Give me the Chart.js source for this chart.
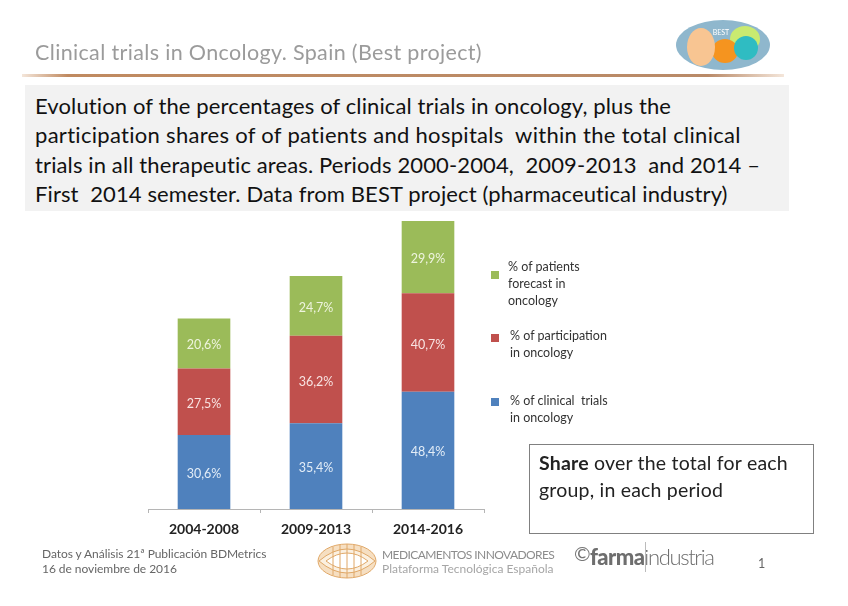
<!DOCTYPE html>
<html>
<head>
<meta charset="utf-8">
<title>Clinical trials in Oncology</title>
<script src="https://cdn.jsdelivr.net/npm/chart.js@4"></script>
<style>
body { margin:0; background:#fff; font-family:Lato, sans-serif; }
#page { position:relative; width:848px; height:606px; overflow:hidden; }
#myChart { position:absolute; left:0; top:0; }
.t { position:absolute; white-space:pre; }
.sq { position:absolute; width:8px; height:8px; }
#title { left:35px; top:39px; font-size:21.5px; line-height:26px; color:#9b9b9b; letter-spacing:.35px; }
#rule { position:absolute; left:22px; top:74px; width:762px; height:3px; background:linear-gradient(90deg,#f4e6da,#c08a60 6%,#b98a68 90%,#f4e6da); }
#box { position:absolute; left:25px; top:85px; width:764px; height:126px; background:#f2f2f2; }
#boxText { left:35px; top:91px; font-size:22px; line-height:29.4px; color:#111; letter-spacing:.12px; }
.leg { font-size:12.5px; line-height:17px; color:#333; }
#share { position:absolute; left:529px; top:444px; width:283px; height:88px; border:1px solid #808080; }
#shareText { left:539px; top:449px; font-size:19.5px; line-height:27px; color:#222; letter-spacing:.2px; }
.foot { font-size:12px; line-height:15px; color:#666; letter-spacing:-.05px; }
</style>
</head>
<body>
<div id="page">
  <canvas id="myChart" width="848" height="606"></canvas>

  <div class="t" id="title">Clinical trials in Oncology. Spain (Best project)</div>
  <svg style="position:absolute;left:670px;top:15px" width="110" height="60">
    <ellipse cx="53" cy="30" rx="47" ry="25" fill="#8fb7cd"/>
    <ellipse cx="75" cy="24" rx="15" ry="13" fill="#c9ea70"/>
    <ellipse cx="55" cy="36" rx="13" ry="12" fill="#f5941f"/>
    <ellipse cx="31" cy="32" rx="14" ry="19" fill="#f8c592"/>
    <ellipse cx="76" cy="33" rx="12" ry="12" fill="#2fbcc2"/>
    <text x="51" y="20" font-size="7" fill="#fff" text-anchor="middle" font-family="Lato">BEST</text>
  </svg>
  <div id="rule"></div>
  <div id="box"></div>
  <div class="t" id="boxText">Evolution of the percentages of clinical trials in oncology, plus the
<span style="letter-spacing:.3px">participation shares of of patients and hospitals  within the total clinical</span>
trials in all therapeutic areas. Periods 2000-2004,  2009-2013  and 2014 –
First  2014 semester. Data from BEST project (pharmaceutical industry)</div>

  <div class="sq" style="left:491px;top:271px;background:#9bbb59"></div>
  <div class="t leg" style="left:508px;top:258px">% of patients
forecast in
oncology</div>
  <div class="sq" style="left:491px;top:334px;background:#c0504d"></div>
  <div class="t leg" style="left:510px;top:327px">% of participation
in oncology</div>
  <div class="sq" style="left:491px;top:398px;background:#4f81bd"></div>
  <div class="t leg" style="left:510px;top:392px">% of clinical  trials
in oncology</div>

  <div id="share"></div>
  <div class="t" id="shareText"><b>Share</b> over the total for each
group, in each period</div>

  <div class="t foot" style="left:42px;top:546px">Datos y Análisis 21ª Publicación BDMetrics</div>
  <div class="t foot" style="left:42px;top:561px">16 de noviembre de 2016</div>
  <svg style="position:absolute;left:316px;top:543px" width="62" height="36" fill="none" stroke="#e0a868" stroke-width="1">
    <ellipse cx="31" cy="18" rx="29" ry="17" fill="#f6dfc2"/>
    <path d="M3 18Q31 -6 59 18Q31 42 3 18Z" fill="#fbf0e0"/>
    <path d="M10 18Q31 2 52 18Q31 34 10 18Z" fill="#fff"/>
    <path d="M31 1V35M17 4V32M45 4V32M24 2V34M38 2V34"/>
  </svg>
  <div class="t" style="left:382px;top:547px;font-size:12px;line-height:15px;color:#8c8c8c;letter-spacing:-.58px">MEDICAMENTOS INNOVADORES</div>
  <div class="t" style="left:382px;top:561px;font-size:12px;line-height:15px;color:#a6a6a6">Plataforma Tecnológica Española</div>
  <div class="t" style="left:574px;top:541px;font-size:20px;line-height:24px;color:#777">©</div>
  <div class="t" style="left:590px;top:543px;font-size:22px;line-height:28px;color:#6e6e6e"><b style="font-weight:900;letter-spacing:-.6px">farma</b><span style="font-weight:300;letter-spacing:-1.35px">industria</span></div>
  <div style="position:absolute;left:645px;top:542px;width:1px;height:30px;background:#bbb"></div>
  <div class="t" style="left:758px;top:556px;font-size:12.5px;line-height:15px;color:#666">1</div>
</div>

<script>
const periods = ['2004-2008', '2009-2013', '2014-2016'];
const trials = [30.6, 35.4, 48.4];
const participation = [27.5, 36.2, 40.7];
const patients = [20.6, 24.7, 29.9];

// bar labels use a decimal comma like the original slide
const barLabels = {
  id: 'barLabels',
  afterDatasetsDraw(chart) {
    const ctx = chart.ctx;
    ctx.save();
    ctx.font = '12.5px Lato';
    ctx.textAlign = 'center';
    ctx.textBaseline = 'middle';
    chart.data.datasets.forEach((ds, i) => {
      ctx.fillStyle = ds.labelColor;
      chart.getDatasetMeta(i).data.forEach((bar, j) => {
        const c = bar.getCenterPoint();
        ctx.fillText(ds.data[j].toFixed(1).replace('.', ',') + '%', c.x, c.y + 2);
      });
    });
    ctx.restore();
  }
};

new Chart(document.getElementById('myChart'), {
  type: 'bar',
  data: {
    labels: periods,
    datasets: [
      { data: trials, backgroundColor: '#4f81bd', labelColor: '#e3edf7' },
      { data: participation, backgroundColor: '#c0504d', labelColor: '#f8e3e2' },
      { data: patients, backgroundColor: '#9bbb59', labelColor: '#eef4de' }
    ]
  },
  options: {
    responsive: false,
    animation: false,
    devicePixelRatio: 1,
    layout: { padding: { left: 148, right: 364, top: 221, bottom: 0 } },
    datasets: { bar: { categoryPercentage: 1, barPercentage: 0.47 } },
    scales: {
      x: {
        stacked: true,
        afterFit: scale => { scale.height = 97; },
        border: { color: '#b5b5b5' },
        grid: { drawOnChartArea: false, color: '#b5b5b5', tickLength: 4 },
        ticks: {
          maxRotation: 0,
          padding: 8,
          color: '#222',
          font: { family: 'Lato', size: 14, weight: 'bold' }
        }
      },
      y: { stacked: true, display: false, min: 0, max: 119 }
    },
    plugins: { legend: { display: false }, tooltip: { enabled: false } }
  },
  plugins: [barLabels]
});
</script>
</body>
</html>
